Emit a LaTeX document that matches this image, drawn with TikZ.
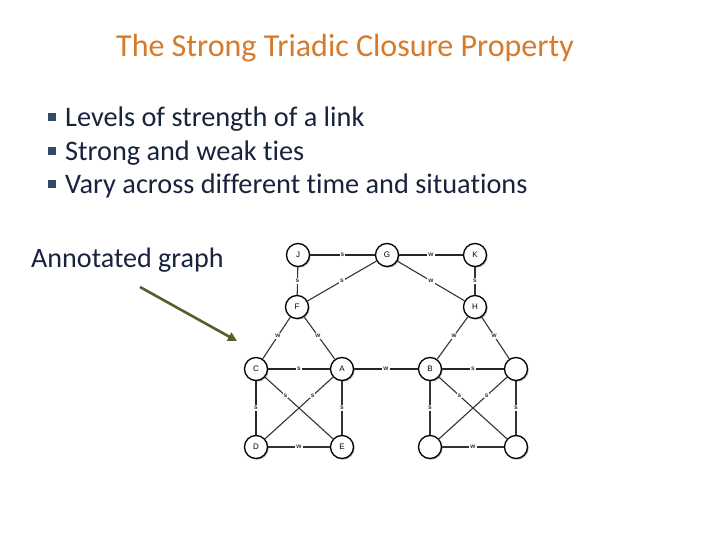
\documentclass[tikz,border=0pt]{standalone}
\usepackage{fontspec}
\setmainfont[Ligatures={NoCommon}]{Carlito}
\setsansfont{Liberation Sans}
\usetikzlibrary{shadows,arrows.meta}
\definecolor{titleor}{RGB}{214,122,44}
\definecolor{bodytx}{RGB}{24,36,62}
\definecolor{bulletc}{RGB}{52,72,108}
\definecolor{arrowg}{RGB}{79,98,40}
\begin{document}
\begin{tikzpicture}[x=1pt,y=-1pt,
  vert/.style={circle,draw=black,line width=1.3pt,fill=white,minimum size=23pt,inner sep=0pt,
    font=\sffamily\fontsize{8}{8}\selectfont,drop shadow={opacity=0.5,fill=black!60,shadow xshift=1.2pt,shadow yshift=-1.2pt}},
  strong/.style={line width=2.2pt,draw=black!85},
  weak/.style={line width=1.1pt,draw=black!80},
  lab/.style={fill=white,inner sep=1pt,font=\sffamily\bfseries\fontsize{6.5}{6.5}\selectfont,text=black!80}]
\useasboundingbox (0,0) rectangle (720,540);
\fill[white] (0,0) rectangle (720,540);
% title
\node[text=titleor,font=\fontsize{32}{36}\selectfont] (title) at (345,48) {The Strong Triadic Closure Property};
% bullets
\foreach \yy/\tt [count=\i] in {117/Levels of strength of a link,151/Strong and weak ties,184/Vary across different time and situations}{
  \fill[bulletc] (48,\yy-4) rectangle +(8,8);
  \node[anchor=west,text=bodytx,font=\fontsize{28.3}{32}\selectfont,inner sep=0pt] (b\i) at (65,\yy+2) {\tt};
}
\node[anchor=west,text=bodytx,font=\fontsize{28.1}{32}\selectfont,inner sep=0pt] (ann) at (31,260) {Annotated graph};
\coordinate (arrs) at (140,287);
\coordinate (arre) at (237,341);
\draw[arrowg,line width=2.6pt,-{Triangle[length=9pt,width=9pt]}] (arrs) -- (arre);
% nodes
\node[vert] (J) at (298,255) {J};
\node[vert] (G) at (387,255) {G};
\node[vert] (K) at (475,255) {K};
\node[vert] (F) at (297,307) {F};
\node[vert] (H) at (475,307) {H};
\node[vert] (C) at (256,369) {C};
\node[vert] (A) at (342,369) {A};
\node[vert] (B) at (430,369) {B};
\node[vert] (R1) at (516,369) {};
\node[vert] (D) at (256,447) {D};
\node[vert] (E) at (342,447) {E};
\node[vert] (R2) at (430,447) {};
\node[vert] (R3) at (516,447) {};
% edges
\draw[strong] (J) -- node[lab]{s} (G);
\draw[strong] (G) -- node[lab]{w} (K);
\draw[weak] (J) -- node[lab]{s} (F);
\draw[weak] (G) -- node[lab]{s} (F);
\draw[weak] (G) -- node[lab]{w} (H);
\draw[weak] (K) -- node[lab]{s} (H);
\draw[weak] (F) -- node[lab,pos=0.45]{w} (C);
\draw[weak] (F) -- node[lab,pos=0.45]{w} (A);
\draw[weak] (H) -- node[lab,pos=0.45]{w} (B);
\draw[weak] (H) -- node[lab,pos=0.45]{w} (R1);
\draw[strong] (C) -- node[lab]{s} (A);
\draw[strong] (A) -- node[lab]{w} (B);
\draw[strong] (B) -- node[lab]{s} (R1);
\draw[strong] (C) -- node[lab]{s} (D);
\draw[weak] (A) -- node[lab]{s} (E);
\draw[weak] (B) -- node[lab]{s} (R2);
\draw[weak] (R1) -- node[lab]{s} (R3);
\draw[weak] (C) -- node[lab,pos=0.3]{s} (E);
\draw[weak] (A) -- node[lab,pos=0.3]{s} (D);
\draw[weak] (B) -- node[lab,pos=0.3]{s} (R3);
\draw[weak] (R1) -- node[lab,pos=0.3]{s} (R2);
\draw[weak] (D) -- node[lab]{w} (E);
\draw[weak] (R2) -- node[lab]{w} (R3);
\end{tikzpicture}
\end{document}
